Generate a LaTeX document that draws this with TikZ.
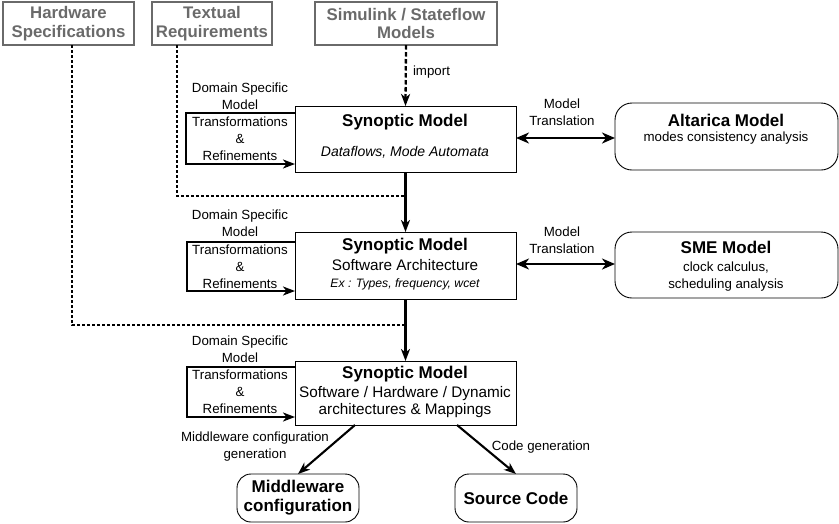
\documentclass[tikz,border=0pt]{standalone}
\usepackage{fontspec}
\setmainfont{Liberation Sans}
\usetikzlibrary{arrows.meta,calc}
\definecolor{srcgray}{HTML}{6A6A6A}
\begin{document}
\begin{tikzpicture}[x=1pt,y=-1pt,
  every node/.style={inner sep=0pt,outer sep=0pt},
  srcbox/.style={draw=srcgray,line width=1.3pt,text=srcgray,align=center,
    font=\bfseries\fontsize{16.8}{18.5}\selectfont},
  synbox/.style={draw,line width=0.9pt,minimum width=221pt},
  anabox/.style={draw,line width=0.9pt,rounded corners=17pt,minimum width=223pt},
  outbox/.style={draw,line width=0.9pt,rounded corners=14pt,minimum width=122pt,minimum height=48pt,
    align=center,font=\bfseries\fontsize{17}{19}\selectfont},
  head/.style={font=\bfseries\fontsize{17}{19}\selectfont},
  txt/.style={font=\fontsize{13.3}{17}\selectfont,align=center},
  btxt/.style={font=\fontsize{15.3}{17}\selectfont},
  itxt/.style={font=\itshape\fontsize{12.2}{15}\selectfont},
  tip/.style={-{Stealth[length=12pt,width=9pt,inset=3.5pt]}},
  flow/.style={tip,line width=2.1pt},
  refine/.style={tip,line width=2.1pt},
  transl/.style={{Stealth[length=13pt,width=11pt,inset=4pt]}-{Stealth[length=13pt,width=11pt,inset=4pt]},line width=2.4pt},
  dots/.style={line width=1.1pt,dash pattern=on 3pt off 2pt},
  importline/.style={tip,line width=2.3pt,dash pattern=on 4.5pt off 2.5pt}]

\useasboundingbox (0,0) rectangle (839,523);

% source artefacts
\node[srcbox,minimum width=131pt,minimum height=43pt] (hw) at (68.5,23.5) {Hardware\\Specifications};
\node[srcbox,minimum width=120pt,minimum height=43pt] (tr) at (212,23.5) {Textual\\Requirements};
\node[srcbox,minimum width=182pt,minimum height=43pt] (sim) at (406,23.5) {Simulink / Stateflow\\Models};

% synoptic model levels
\node[synbox,minimum height=66pt] (b1) at (405.5,139) {};
\node[synbox,minimum height=67pt] (b2) at (405.5,265.5) {};
\node[synbox,minimum height=64pt] (b3) at (405.5,393) {};

\node[head] (b1t) at (405,122) {Synoptic Model};
\node[itxt,font=\itshape\fontsize{14}{16}\selectfont] (b1s) at (405,152) {Dataflows, Mode Automata};

\node[head] (b2t) at (405,246) {Synoptic Model};
\node[btxt] (b2s) at (405,265.5) {Software Architecture};
\node[itxt] (b2e) at (405,284) {Ex : Types, frequency, wcet};

\node[head] (b3t) at (405,374) {Synoptic Model};
\node[btxt] (b3s) at (405,393.5) {Software / Hardware / Dynamic};
\node[btxt] (b3a) at (405,411) {architectures \& Mappings};

% analysis models
\node[anabox,minimum height=67pt] (alt) at (726.5,136.5) {};
\node[head] (altt) at (726,120) {Altarica Model};
\node[txt] (alts) at (726,138) {modes consistency analysis};

\node[anabox,minimum height=66pt] (sme) at (726.5,265) {};
\node[head] (smet) at (726,247) {SME Model};
\node[txt] (smes) at (726,276.5) {clock calculus,\\scheduling analysis};

% generated artefacts
\node[outbox] (mw) at (298,498) {Middleware\\configuration};
\node[outbox] (sc) at (516,498) {Source Code};

% junctions on the main flow
\coordinate (j1) at (405,196);
\coordinate (j2) at (405,325);

% requirement traces
\draw[dots] ($(hw.south west)+(69,0)$) |- (j2);
\draw[dots] ($(tr.south west)+(25,0)$) |- (j1);

% import
\draw[importline] (sim.south) -- (b1.north);
\node[txt,anchor=west] (imp) at (413,72) {import};

% main flow
\draw[flow] (b1.south) -- (b2.north);
\draw[flow] (b2.south) -- (b3.north);

% refinement loops
\draw[refine] ($(b1.north west)+(0,7)$) -- ++(-109,0) |- ($(b1.south west)+(0,-8)$);
\draw[refine] ($(b2.north west)+(0,10)$) -- ++(-108,0) |- ($(b2.south west)+(0,-8)$);
\draw[refine] ($(b3.north west)+(0,6)$) -- ++(-108,0) |- ($(b3.south west)+(0,-8)$);

\node[txt] (r1a) at (240,96) {Domain Specific\\Model};
\node[txt] (r1b) at (240,139) {Transformations\\\&\\Refinements};
\node[txt] (r2a) at (240,223.5) {Domain Specific\\Model};
\node[txt] (r2b) at (240,267) {Transformations\\\&\\Refinements};
\node[txt] (r3a) at (240,349.5) {Domain Specific\\Model};
\node[txt] (r3b) at (240,392) {Transformations\\\&\\Refinements};

% model translations
\draw[transl] (b1.east |- 0,138) -- (alt.west |- 0,138);
\node[txt] (t1) at (562,112) {Model\\Translation};
\draw[transl] (b2.east |- 0,264) -- (sme.west |- 0,264);
\node[txt] (t2) at (562,240.5) {Model\\Translation};

% code generation
\draw[flow] ($(b3.south west)+(60,0)$) -- (mw.north);
\draw[flow] ($(b3.south east)+(-59,0)$) -- (sc.north);
\node[txt] (g1) at (255,446.5) {Middleware configuration\\generation};
\node[txt] (g2) at (541,447) {Code generation};

\end{tikzpicture}
\end{document}
